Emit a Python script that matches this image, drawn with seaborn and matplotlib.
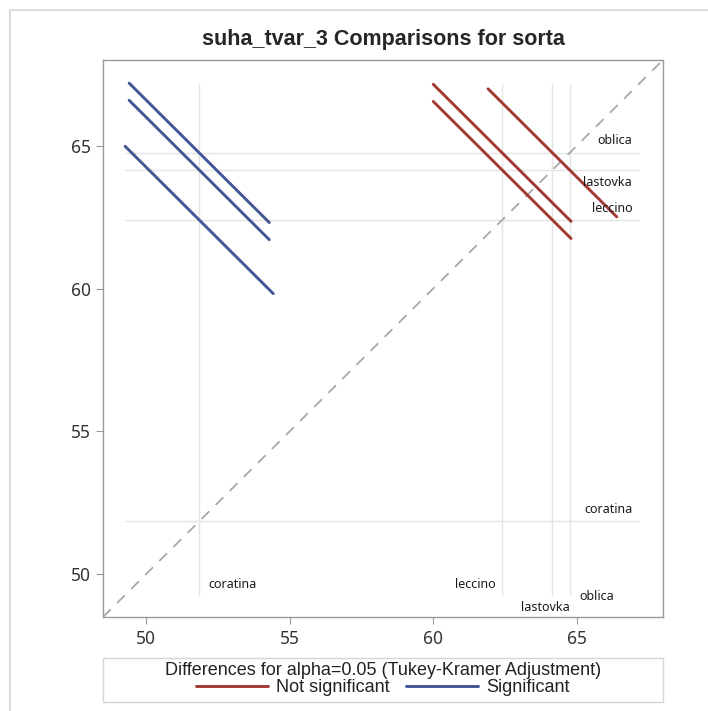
import numpy as np
import pandas as pd
import matplotlib.pyplot as plt
from matplotlib.lines import Line2D
from matplotlib.patches import Rectangle
import seaborn as sns

# data
levels = ['coratina', 'leccino', 'lastovka', 'oblica']
lsmeans = [51.85, 62.40, 64.15, 64.75]
pair_a = ['coratina', 'coratina', 'coratina', 'leccino', 'leccino', 'lastovka']
pair_b = ['leccino', 'lastovka', 'oblica', 'lastovka', 'oblica', 'oblica']
half_width = [2.58, 2.44, 2.44, 2.40, 2.40, 2.24]
significant = ['Significant', 'Significant', 'Significant',
               'Not significant', 'Not significant', 'Not significant']

sns.set_style('white')
plt.rcParams['font.family'] = ['Liberation Sans', 'DejaVu Sans']

m = dict(zip(levels, lsmeans))
rows = []
for k, (a, b, d, s) in enumerate(zip(pair_a, pair_b, half_width, significant)):
    rows.append({'seg': k, 'x': m[a] - d, 'y': m[b] + d, 'sig': s})
    rows.append({'seg': k, 'x': m[a] + d, 'y': m[b] - d, 'sig': s})
seg_df = pd.DataFrame(rows)

colors = {'Not significant': '#A23A32', 'Significant': '#445694'}
lo, hi = 48.5, 68.0
ref_lo, ref_hi = 49.27, 67.15

fig = plt.figure(figsize=(7.08, 7.11), dpi=100)
ax = fig.add_axes([0.1455, 0.1322, 0.7909, 0.7834])

# reference lines at the means
for v in lsmeans:
    ax.plot([v, v], [ref_lo, ref_hi], color='#E4E4E4', lw=1, zorder=1)
    ax.plot([ref_lo, ref_hi], [v, v], color='#E4E4E4', lw=1, zorder=1)

# diagonal
ax.plot([lo, hi], [lo, hi], color='#A8A8A8', lw=1.3, ls=(0, (6, 5)), zorder=2)

sns.lineplot(data=seg_df, x='x', y='y', units='seg', hue='sig', estimator=None,
             sort=False, palette=colors, lw=2.1, ax=ax, legend=False, zorder=3)

# level labels (right side = horizontal refs, bottom = vertical refs)
lab_font = ['Noto Sans', 'DejaVu Sans']
right_off = [0.41, 0.40, -0.44, 0.42]
for name, v, o in zip(levels, lsmeans, right_off):
    ax.text(66.93, v + o, name, fontsize=9, ha='right', va='center',
            color='#1A1A1A', family=lab_font)
bottom_y = [49.65, 49.65, 48.85, 49.23]
bottom_dx = [1.15, -0.92, -0.25, 0.95]
for name, v, yy, dx in zip(levels, lsmeans, bottom_y, bottom_dx):
    ax.text(v + dx, yy, name, fontsize=9, ha='center', va='center',
            color='#1A1A1A', family=lab_font)

ax.set_xlim(lo, hi)
ax.set_ylim(lo, hi)
ax.set_xticks([50, 55, 60, 65])
ax.set_yticks([50, 55, 60, 65])
ax.set_xlabel('')
ax.set_ylabel('')
ax.tick_params(labelsize=12.5, length=5, width=0.8, pad=4,
               direction='out', left=True, bottom=True, colors='#999999',
               labelcolor='#333333')
for lab in ax.get_xticklabels() + ax.get_yticklabels():
    lab.set_family(lab_font)
for sp in ax.spines.values():
    sp.set_color('#9A9A9A')
    sp.set_linewidth(1)

fig.text(0.541, 0.944, 'suha_tvar_3 Comparisons for sorta', ha='center', va='center',
         fontsize=15.5, fontweight='bold')

# legend box
fig.add_artist(Rectangle((103 / 708, 1 - 702 / 711), 560 / 708, 44 / 711,
                         transform=fig.transFigure, fill=False, ec='#D6D6D6', lw=1))
handles = [Line2D([], [], color=colors['Not significant'], lw=2.1),
           Line2D([], [], color=colors['Significant'], lw=2.1)]
leg = fig.legend(handles, ['Not significant', 'Significant'], ncol=2,
                 title='Differences for alpha=0.05 (Tukey-Kramer Adjustment)',
                 loc='center', bbox_to_anchor=(0.541, 1 - 679 / 711), frameon=False,
                 fontsize=13, title_fontsize=13, handlelength=4.0, handleheight=0.9,
                 columnspacing=0.9, handletextpad=0.45, borderpad=0, labelspacing=0)
leg.get_title().set_color('#222222')
for t in leg.get_texts():
    t.set_color('#222222')

# outer frame
fig.add_artist(Line2D([10 / 708, 10 / 708], [0, 1 - 10 / 711], transform=fig.transFigure,
                      color='#DCDCDC', lw=1.5))
fig.add_artist(Line2D([10 / 708, 1], [1 - 10 / 711, 1 - 10 / 711], transform=fig.transFigure,
                      color='#DCDCDC', lw=1.5))

fig.savefig('out.png', dpi=100)
